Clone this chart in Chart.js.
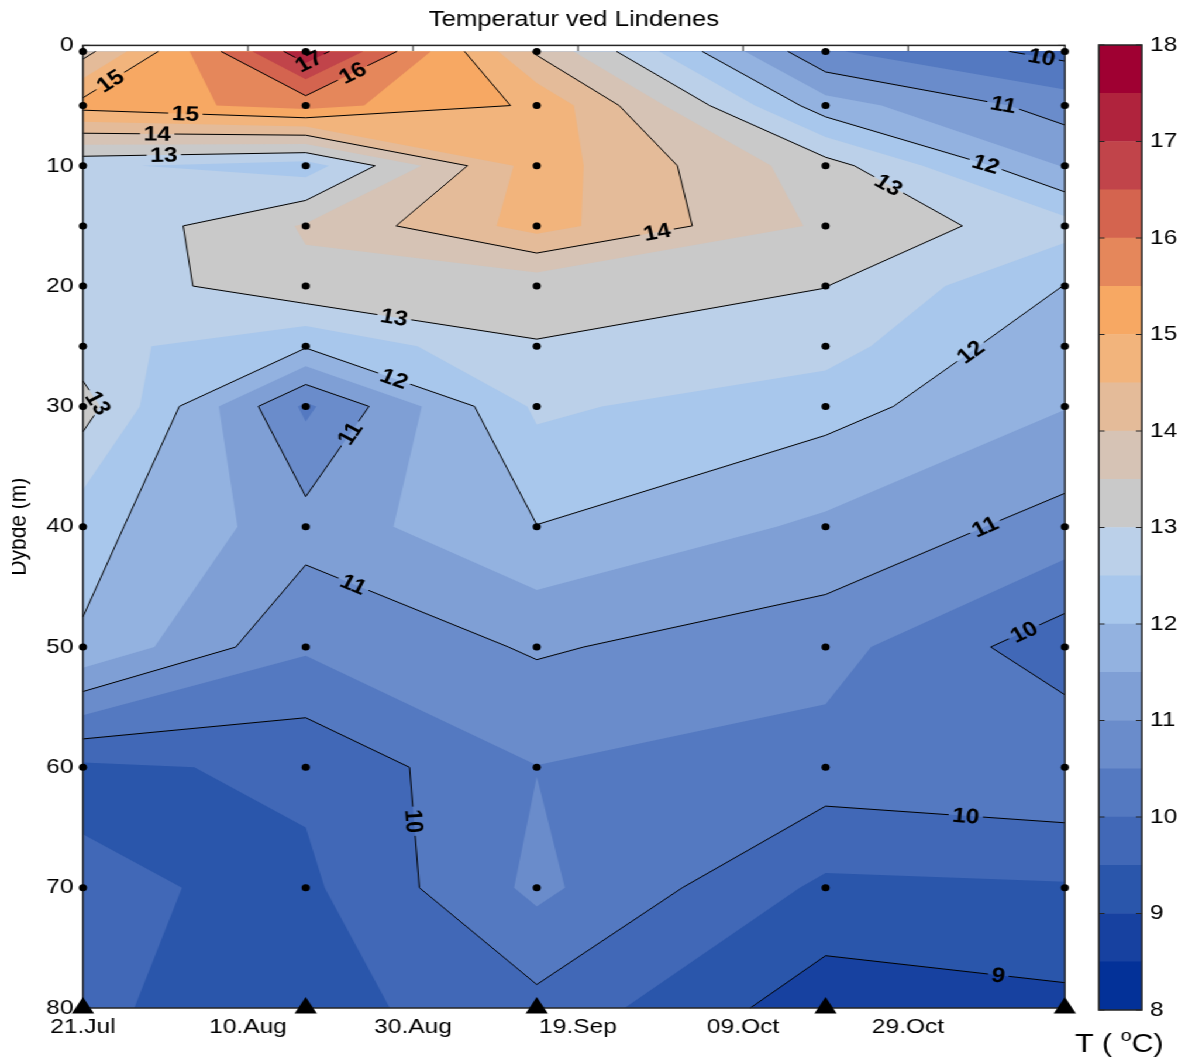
<!DOCTYPE html>
<html>
<head>
<meta charset="utf-8">
<title>Temperatur ved Lindenes</title>
<script src="https://cdn.jsdelivr.net/npm/chart.js@4/dist/chart.umd.min.js"></script>
<style>
  html, body { margin: 0; padding: 0; background: #fff; overflow: hidden; }
  #stage { position: relative; width: 1007px; height: 1059px; transform: scaleX(1.16981); transform-origin: 0 0; }
  #main { position: absolute; left: 10px; top: 0; }
  #bar { position: absolute; left: 900px; top: 0; }
</style>
</head>
<body>
<div id="stage">
  <canvas id="main" width="997" height="1059"></canvas>
  <canvas id="bar" width="107" height="1059"></canvas>
</div>
<script>
// Sampling dates as days after 21 July, sampling depths in metres
const sampleDays = [0, 27, 55, 90, 119];
const sampleDepths = [0.5, 5, 10, 15, 20, 25, 30, 40, 50, 60, 70, 80];

// Temperature profiles (°C), one per sampling date, top to bottom
const temp21Jul = [13.80, 15.20, 12.59, 12.55, 12.62, 12.70, 13.22, 12.18, 11.94, 9.40, 9.58, 9.56];
const temp17Aug = [17.35, 15.70, 12.25, 13.55, 13.39, 12.05, 10.40, 11.20, 10.57, 9.60, 9.40, 9.30];
const temp14Sep = [13.93, 14.91, 14.75, 14.70, 13.15, 12.98, 12.59, 11.99, 11.06, 10.49, 10.62, 9.85];
const temp19Oct = [10.56, 11.72, 13.21, 13.40, 13.01, 12.71, 12.19, 11.40, 10.69, 10.29, 9.39, 8.70];
const temp17Nov = [9.83, 10.78, 11.46, 12.70, 11.99, 11.60, 11.52, 10.80, 9.69, 10.47, 9.45, 8.88];
const profiles = [temp21Jul, temp17Aug, temp14Sep, temp19Oct, temp17Nov];

// Filled contour levels and their colours (lowest band first)
const colorLevels = [8, 8.5, 9, 9.5, 10, 10.5, 11, 11.5, 12, 12.5, 13, 13.5, 14, 14.5, 15, 15.5, 16, 16.5, 17, 17.5, 18];
const bandColors = ['#033198', '#1741a0', '#2a56ab', '#4168b7', '#5479c1', '#6a8ccb', '#7f9fd5', '#93b2e0', '#a8c7ec', '#bbd0e9',
                    '#c9c9c9', '#d6c3b5', '#e4bb99', '#f2b47c', '#f7a863', '#e5875b', '#d4644f', '#c1444a', '#b0233d', '#9f0032'];

// Contour lines and where their labels sit: [level, day, depth]
const lineLevels = [9, 10, 11, 12, 13, 14, 15, 16, 17];
const contourLabels = [
  [15, 3.0, 2.7], [17, 27.3, 1.25], [16, 32.7, 2.3], [15, 12.4, 6.0], [14, 9.0, 7.6], [13, 9.8, 9.1],
  [14, 69.6, 15.6], [13, 97.4, 11.8], [10, 116.1, 1.3], [11, 111.5, 5.1], [12, 109.4, 9.9],
  [13, 37.6, 23.0], [12, 37.3, 28.3], [13, 1.3, 29.9], [11, 32.8, 32.4], [12, 107.6, 25.5],
  [11, 109.4, 40.1], [11, 32.3, 45.4], [10, 114.2, 48.9], [10, 39.5, 64.5], [10, 107.0, 64.0], [9, 110.8, 77.9]
];

// Date ticks (days after 21 July)
const xTickDays = [0, 20, 40, 60, 80, 100];
const monthNames = ['Jan', 'Feb', 'Mar', 'Apr', 'May', 'Jun', 'Jul', 'Aug', 'Sep', 'Oct', 'Nov', 'Dec'];
function formatDay(day) {
  const d = new Date(2000, 6, 21 + day);
  return String(d.getDate()).padStart(2, '0') + '.' + monthNames[d.getMonth()];
}

const FONT = '"Liberation Sans", Arial, Helvetica, sans-serif';
Chart.defaults.font.family = FONT;
Chart.defaults.color = '#000';

// Crossing point of a level on the edge from corner a to corner b
function edgeHit(a, b, L) {
  const t = (L - a.v) / (b.v - a.v);
  return { x: a.x + t * (b.x - a.x), y: a.y + t * (b.y - a.y), v: L };
}

// Is this cell a saddle for level L, and are its low corners joined through the centre?
function saddleInfo(c, L) {
  const up = c.map(p => p.v >= L);
  const saddle = up[0] === up[2] && up[1] === up[3] && up[0] !== up[1];
  const centre = (c[0].v + c[1].v + c[2].v + c[3].v) / 4;
  return { up, saddle, lowJoined: saddle && centre < L };
}

// Polygons covering the part of a cell where the temperature is >= L
function regionsAbove(c, L) {
  const { up, lowJoined } = saddleInfo(c, L);
  if (lowJoined) {
    const polys = [];
    for (let k = 0; k < 4; k++) {
      if (!up[k]) continue;
      const prev = c[(k + 3) % 4], next = c[(k + 1) % 4];
      polys.push([edgeHit(prev, c[k], L), c[k], edgeHit(c[k], next, L)]);
    }
    return polys;
  }
  const out = [];
  for (let k = 0; k < 4; k++) {
    const a = c[k], b = c[(k + 1) % 4];
    if (up[k]) out.push(a);
    if (up[k] !== up[(k + 1) % 4]) out.push(edgeHit(a, b, L));
  }
  return out.length >= 3 ? [out] : [];
}

// Contour segments of one level inside one grid cell (marching squares)
function cellSegments(c, L) {
  const { up, saddle, lowJoined } = saddleInfo(c, L);
  const hits = [null, null, null, null];
  let n = 0;
  for (let e = 0; e < 4; e++) {
    if (up[e] !== up[(e + 1) % 4]) { hits[e] = edgeHit(c[e], c[(e + 1) % 4], L); n++; }
  }
  if (saddle) {
    // cut off the corners that are not joined through the centre
    const segs = [];
    for (let k = 0; k < 4; k++) {
      if (up[k] === lowJoined) segs.push([hits[(k + 3) % 4], hits[k]]);
    }
    return segs;
  }
  if (n === 2) {
    const p = hits.filter(h => h);
    return [[p[0], p[1]]];
  }
  return [];
}

const contourPlugin = {
  id: 'contourField',
  beforeDatasetsDraw(chart) {
    const ctx = chart.ctx, xs = chart.scales.x, ys = chart.scales.y, area = chart.chartArea;
    const px = sampleDays.map(d => xs.getPixelForValue(d));
    const py = sampleDepths.map(d => ys.getPixelForValue(d));
    const cells = [];
    for (let i = 0; i < px.length - 1; i++) {
      for (let j = 0; j < py.length - 1; j++) {
        cells.push([
          { x: px[i], y: py[j], v: profiles[i][j] },
          { x: px[i + 1], y: py[j], v: profiles[i + 1][j] },
          { x: px[i + 1], y: py[j + 1], v: profiles[i + 1][j + 1] },
          { x: px[i], y: py[j + 1], v: profiles[i][j + 1] }
        ]);
      }
    }
    ctx.save();

    // inward tick marks on all four sides (under the field)
    ctx.strokeStyle = '#262626';
    ctx.lineWidth = 1;
    ctx.beginPath();
    xTickDays.forEach(d => {
      const x = xs.getPixelForValue(d);
      ctx.moveTo(x, area.top); ctx.lineTo(x, area.top + 6);
      ctx.moveTo(x, area.bottom); ctx.lineTo(x, area.bottom - 6);
    });
    ys.ticks.forEach(t => {
      const y = ys.getPixelForValue(t.value);
      ctx.moveTo(area.left, y); ctx.lineTo(area.left + 6, y);
      ctx.moveTo(area.right, y); ctx.lineTo(area.right - 6, y);
    });
    ctx.stroke();

    // filled bands, painted as nested super-level regions
    for (let k = 0; k < bandColors.length; k++) {
      ctx.beginPath();
      cells.forEach(c => {
        const polys = k === 0 ? [c] : regionsAbove(c, colorLevels[k]);
        polys.forEach(poly => {
          ctx.moveTo(poly[0].x, poly[0].y);
          for (let m = 1; m < poly.length; m++) ctx.lineTo(poly[m].x, poly[m].y);
          ctx.closePath();
        });
      });
      ctx.fillStyle = bandColors[k];
      ctx.fill();
    }

    // contour line segments per level
    const segs = {};
    lineLevels.forEach(L => {
      segs[L] = [];
      cells.forEach(c => cellSegments(c, L).forEach(s => segs[L].push(s)));
    });

    // label placement along the nearest segment of its level
    const labelFont = 'bold 21px ' + FONT;
    ctx.font = labelFont;
    const placed = [];
    contourLabels.forEach(([L, day, depth]) => {
      const p = { x: xs.getPixelForValue(day), y: ys.getPixelForValue(depth) };
      let best = null, bd = Infinity;
      (segs[L] || []).forEach(([a, b]) => {
        const dx = b.x - a.x, dy = b.y - a.y;
        const len2 = dx * dx + dy * dy || 1;
        let t = ((p.x - a.x) * dx + (p.y - a.y) * dy) / len2;
        t = Math.max(0, Math.min(1, t));
        const q = { x: a.x + t * dx, y: a.y + t * dy };
        const d = Math.hypot(p.x - q.x, p.y - q.y);
        if (d < bd) { bd = d; best = { q, ang: Math.atan2(dy, dx) }; }
      });
      if (!best) return;
      let ang = best.ang;
      if (ang > Math.PI / 2) ang -= Math.PI;
      if (ang <= -Math.PI / 2) ang += Math.PI;
      const text = String(L);
      placed.push({ x: best.q.x, y: best.q.y, ang, w: ctx.measureText(text).width, text });
    });

    // lines, with gaps where labels sit
    ctx.save();
    ctx.beginPath();
    ctx.rect(0, 0, chart.width, chart.height);
    placed.forEach(l => {
      const c = Math.cos(l.ang), s = Math.sin(l.ang), hw = l.w / 2 + 3, hh = 9;
      const pts = [[-hw, -hh], [hw, -hh], [hw, hh], [-hw, hh]].map(([u, v]) => [l.x + u * c - v * s, l.y + u * s + v * c]);
      ctx.moveTo(pts[0][0], pts[0][1]);
      for (let m = 1; m < 4; m++) ctx.lineTo(pts[m][0], pts[m][1]);
      ctx.closePath();
    });
    ctx.clip('evenodd');
    ctx.strokeStyle = '#000';
    ctx.lineWidth = 1;
    ctx.lineJoin = 'round';
    ctx.beginPath();
    lineLevels.forEach(L => segs[L].forEach(([a, b]) => { ctx.moveTo(a.x, a.y); ctx.lineTo(b.x, b.y); }));
    ctx.stroke();
    ctx.restore();

    // contour labels
    ctx.fillStyle = '#000';
    ctx.font = labelFont;
    ctx.textAlign = 'center';
    ctx.textBaseline = 'middle';
    placed.forEach(l => {
      ctx.save();
      ctx.translate(l.x, l.y);
      ctx.rotate(l.ang);
      ctx.fillText(l.text, 0, 1);
      ctx.restore();
    });

    // axes box
    ctx.strokeStyle = '#262626';
    ctx.lineWidth = 1.5;
    ctx.strokeRect(area.left, area.top, area.right - area.left, area.bottom - area.top);
    ctx.restore();
  }
};

const lastDepth = sampleDepths[sampleDepths.length - 1];
const samplePoints = [];
const bottomPoints = [];
sampleDays.forEach(d => sampleDepths.forEach(z => (z < lastDepth ? samplePoints : bottomPoints).push({ x: d, y: z })));

new Chart(document.getElementById('main'), {
  type: 'scatter',
  data: {
    datasets: [
      { label: 'Prøvedyp', data: samplePoints, pointStyle: 'circle', pointRadius: 3.5, backgroundColor: '#000', borderWidth: 0, clip: false },
      { label: 'Bunn', data: bottomPoints, pointStyle: 'triangle', pointRadius: 11, backgroundColor: '#000', borderWidth: 0, clip: false }
    ]
  },
  options: {
    responsive: false,
    animation: false,
    events: [],
    devicePixelRatio: 1,
    layout: { padding: { left: 0, right: 96.7, top: 0, bottom: 0 } },
    plugins: {
      legend: { display: false },
      tooltip: { enabled: false },
      title: {
        display: true, text: 'Temperatur ved Lindenes', color: '#000', fullSize: false,
        font: { family: FONT, size: 22, weight: 'normal' }, padding: { top: 7, bottom: 12 }
      }
    },
    scales: {
      x: {
        type: 'linear', min: 0, max: sampleDays[sampleDays.length - 1],
        afterBuildTicks: s => { s.ticks = xTickDays.map(v => ({ value: v })); },
        afterFit: s => { s.height = 51; },
        grid: { display: false, drawTicks: false },
        border: { display: false },
        ticks: { color: '#000', font: { family: FONT, size: 21 }, padding: 7, maxRotation: 0, autoSkip: false, callback: v => formatDay(v) }
      },
      y: {
        type: 'linear', reverse: true, min: 0, max: 80,
        afterFit: s => { s.width = 60.9; },
        grid: { display: false, drawTicks: false },
        border: { display: false },
        ticks: { stepSize: 10, color: '#000', font: { family: FONT, size: 21 }, padding: 8 },
        title: { display: true, text: 'Dybde (m)', color: '#000', font: { family: FONT, size: 21 }, padding: { top: -6, bottom: 0 } }
      }
    }
  },
  plugins: [contourPlugin]
});

// Colour bar: one floating bar per band
const colorbarDecor = {
  id: 'colorbarDecor',
  afterDatasetsDraw(chart) {
    const ctx = chart.ctx, area = chart.chartArea, ys = chart.scales.y;
    ctx.save();
    ctx.strokeStyle = '#262626';
    ctx.lineWidth = 1;
    ctx.beginPath();
    ys.ticks.forEach(t => {
      const y = ys.getPixelForValue(t.value);
      ctx.moveTo(area.left, y); ctx.lineTo(area.left + 5, y);
      ctx.moveTo(area.right, y); ctx.lineTo(area.right - 5, y);
    });
    ctx.stroke();
    ctx.lineWidth = 1.5;
    ctx.strokeRect(area.left, area.top, area.right - area.left, area.bottom - area.top);
    // unit label: T ( °C)
    ctx.fillStyle = '#000';
    ctx.textBaseline = 'alphabetic';
    ctx.textAlign = 'left';
    let x = area.left - 20.4;
    const y = area.bottom + 42;
    ctx.font = '26px ' + FONT;
    ctx.fillText('T ( ', x, y);
    x += ctx.measureText('T ( ').width;
    ctx.font = '17px ' + FONT;
    ctx.fillText('o', x, y - 11);
    x += ctx.measureText('o').width;
    ctx.font = '26px ' + FONT;
    ctx.fillText('C)', x, y);
    ctx.restore();
  }
};

new Chart(document.getElementById('bar'), {
  type: 'bar',
  data: {
    labels: ['T'],
    datasets: bandColors.map((c, k) => ({
      label: colorLevels[k] + '–' + colorLevels[k + 1],
      data: [[colorLevels[k], colorLevels[k + 1]]],
      backgroundColor: c, borderWidth: 0, grouped: false, barPercentage: 1, categoryPercentage: 1
    }))
  },
  options: {
    responsive: false,
    animation: false,
    events: [],
    devicePixelRatio: 1,
    layout: { padding: { left: 39.3, right: 0, top: 45, bottom: 49 } },
    plugins: { legend: { display: false }, tooltip: { enabled: false } },
    scales: {
      x: { display: false },
      y: {
        position: 'right', min: 8, max: 18,
        afterFit: s => { s.width = 30.9; },
        grid: { display: false, drawTicks: false },
        border: { display: false },
        ticks: { stepSize: 1, color: '#000', font: { family: FONT, size: 21 }, padding: 7 }
      }
    }
  },
  plugins: [colorbarDecor]
});
</script>
</body>
</html>
